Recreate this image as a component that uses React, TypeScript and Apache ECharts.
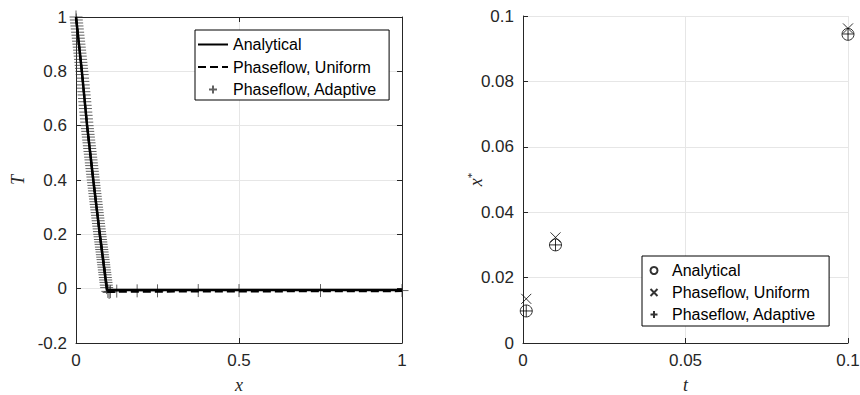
import React, { useEffect, useRef } from "react";
import * as echarts from "echarts";

// ---------- Left panel data: temperature profile T(x) ----------
const analyticalProfile: [number, number][] = [
  [0, 1], [0.018, 0.8], [0.034, 0.6], [0.053, 0.4], [0.073, 0.2], [0.095, -0.005], [1, -0.005],
];
const uniformProfile: [number, number][] = [
  [0, 1], [0.018, 0.8], [0.034, 0.6], [0.053, 0.4], [0.073, 0.2], [0.097, -0.012], [0.25, -0.011], [1, -0.009],
];
const adaptiveProfile: [number, number][] = [
  [0, 1.0], [0.001, 0.989], [0.002, 0.978], [0.003, 0.967], [0.004, 0.956], [0.005, 0.944],
  [0.006, 0.933], [0.007, 0.922], [0.008, 0.911], [0.009, 0.9], [0.01, 0.889], [0.011, 0.878],
  [0.012, 0.867], [0.013, 0.856], [0.014, 0.844], [0.015, 0.833], [0.016, 0.822], [0.017, 0.811],
  [0.018, 0.8], [0.019, 0.788], [0.02, 0.775], [0.021, 0.763], [0.022, 0.75], [0.023, 0.738],
  [0.024, 0.725], [0.025, 0.713], [0.026, 0.7], [0.027, 0.688], [0.028, 0.675], [0.029, 0.663],
  [0.03, 0.65], [0.031, 0.638], [0.032, 0.625], [0.033, 0.613], [0.034, 0.6], [0.035, 0.589],
  [0.036, 0.579], [0.037, 0.568], [0.038, 0.558], [0.039, 0.547], [0.04, 0.537], [0.041, 0.526],
  [0.042, 0.516], [0.043, 0.505], [0.044, 0.495], [0.045, 0.484], [0.046, 0.474], [0.047, 0.463],
  [0.048, 0.453], [0.049, 0.442], [0.05, 0.432], [0.051, 0.421], [0.052, 0.411], [0.053, 0.4],
  [0.054, 0.39], [0.055, 0.38], [0.056, 0.37], [0.057, 0.36], [0.058, 0.35], [0.059, 0.34],
  [0.06, 0.33], [0.061, 0.32], [0.062, 0.31], [0.063, 0.3], [0.064, 0.29], [0.065, 0.28],
  [0.066, 0.27], [0.067, 0.26], [0.068, 0.25], [0.069, 0.24], [0.07, 0.23], [0.071, 0.22],
  [0.072, 0.21], [0.073, 0.2], [0.074, 0.191], [0.075, 0.181], [0.076, 0.172], [0.077, 0.163],
  [0.078, 0.153], [0.079, 0.144], [0.08, 0.135], [0.081, 0.125], [0.082, 0.116], [0.083, 0.107],
  [0.084, 0.097], [0.085, 0.088], [0.086, 0.079], [0.087, 0.069], [0.088, 0.06], [0.089, 0.051],
  [0.09, 0.041], [0.091, 0.032], [0.092, 0.023], [0.093, 0.013], [0.094, 0.004],
  [0.0977, -0.01], [0.1016, -0.014], [0.1055, -0.011], [0.125, -0.009], [0.1875, -0.008],
  [0.25, -0.008], [0.375, -0.007], [0.5, -0.007], [0.75, -0.007], [1.0, -0.007],
];

// ---------- Right panel data: melting front position x*(t) ----------
const times = [0.001, 0.01, 0.1];
const analyticalFront = [0.0098, 0.030, 0.0944];
const uniformFront = [0.0135, 0.0323, 0.0962];
const adaptiveFront = [0.0098, 0.030, 0.0945];

const seriesNames = ["Analytical", "Phaseflow, Uniform", "Phaseflow, Adaptive"];

const AXIS_COLOR = "#262626";
const GRID_COLOR = "#e6e6e6";
const SANS = "Liberation Sans, Arial, sans-serif";
const SERIF = "Liberation Serif, Times New Roman, serif";
const PLUS = "path://M5 0V10M0 5H10";
const CROSS = "path://M0 0L10 10M10 0L0 10";
const HIDDEN = { color: "rgba(0,0,0,0)", borderColor: "rgba(0,0,0,0)", borderWidth: 0, opacity: 0 };

const axisNameStyle = {
  fontFamily: SERIF,
  fontStyle: "italic",
  fontSize: 18,
  color: AXIS_COLOR,
};

function baseAxis(min: number, max: number, interval: number) {
  return {
    type: "value",
    min,
    max,
    interval,
    nameMoveOverlap: false,
    axisLine: { show: true, onZero: false, lineStyle: { color: AXIS_COLOR, width: 1 } },
    axisTick: { show: true, inside: true, length: 5, lineStyle: { color: AXIS_COLOR } },
    axisLabel: { fontFamily: SANS, fontSize: 17, color: AXIS_COLOR, margin: 9 },
    splitLine: { show: true, lineStyle: { color: GRID_COLOR, width: 1 } },
  };
}

function boxAxis(min: number, max: number, interval: number, position: string) {
  return {
    ...baseAxis(min, max, interval),
    position,
    axisLabel: { show: false },
    splitLine: { show: false },
  };
}

const legendText = { fontFamily: SANS, fontSize: 16, color: "#000", lineHeight: 17 };

function leftOption(): any {
  return {
    animation: false,
    grid: { left: 76, right: 28, top: 17, bottom: 52, containLabel: false, outerBoundsMode: "none" },
    xAxis: [
      {
        ...baseAxis(0, 1, 0.5),
        position: "bottom",
        name: "x",
        nameLocation: "middle",
        nameGap: 33,
        nameTextStyle: axisNameStyle,
      },
      boxAxis(0, 1, 0.5, "top"),
    ],
    yAxis: [
      {
        ...baseAxis(-0.2, 1, 0.2),
        position: "left",
        name: "T",
        nameLocation: "middle",
        nameGap: 49,
        nameRotate: 90,
        nameTextStyle: axisNameStyle,
      },
      boxAxis(-0.2, 1, 0.2, "right"),
    ],
    legend: {
      left: 195,
      top: 30,
      orient: "vertical",
      data: [
        { name: seriesNames[0], itemStyle: HIDDEN },
        { name: seriesNames[1], itemStyle: HIDDEN },
        { name: seriesNames[2] },
      ],
      itemWidth: 30,
      itemHeight: 8,
      itemGap: 5.5,
      padding: [6, 12, 2, 2],
      borderColor: "#000",
      borderWidth: 1,
      backgroundColor: "#fff",
      textStyle: legendText,
      selectedMode: false,
    },
    series: [
      {
        name: seriesNames[2],
        type: "scatter",
        data: adaptiveProfile,
        symbol: PLUS,
        symbolSize: 13,
        clip: false,
        silent: true,
        itemStyle: { color: "none", borderColor: "#3a3a3a", borderWidth: 1 },
        z: 2,
      },
      {
        name: seriesNames[1],
        type: "line",
        data: uniformProfile,
        showSymbol: false,
        symbol: "none",
        silent: true,
        lineStyle: { color: "#000", width: 2, type: [8, 4] },
        itemStyle: HIDDEN,
        z: 3,
      },
      {
        name: seriesNames[0],
        type: "line",
        data: analyticalProfile,
        showSymbol: false,
        symbol: "none",
        silent: true,
        lineStyle: { color: "#000", width: 2.5 },
        itemStyle: HIDDEN,
        z: 4,
      },
    ],
  };
}

function rightOption(): any {
  const pairs = (ys: number[]) => times.map((t, i) => [t, ys[i]]);
  return {
    animation: false,
    grid: { left: 93, right: 12, top: 16, bottom: 52, containLabel: false, outerBoundsMode: "none" },
    xAxis: {
      ...baseAxis(0, 0.1, 0.05),
      name: "t",
      nameLocation: "middle",
      nameGap: 33,
      nameTextStyle: axisNameStyle,
    },
    yAxis: {
      ...baseAxis(0, 0.1, 0.02),
      name: "{i|x}{s|*}",
      nameLocation: "middle",
      nameGap: 36,
      nameRotate: 90,
      nameTextStyle: {
        rich: {
          i: { fontFamily: SERIF, fontStyle: "italic", fontSize: 18, color: AXIS_COLOR, lineHeight: 22 },
          s: { fontFamily: SERIF, fontSize: 11, color: AXIS_COLOR, lineHeight: 11, verticalAlign: "top" },
        },
      },
    },
    legend: {
      left: 212,
      top: 256,
      orient: "vertical",
      data: seriesNames,
      itemWidth: 26,
      itemHeight: 7,
      itemGap: 5,
      padding: [6, 13, 3, 6],
      borderColor: "#000",
      borderWidth: 1,
      backgroundColor: "#fff",
      textStyle: legendText,
      selectedMode: false,
    },
    series: [
      {
        name: seriesNames[0],
        type: "scatter",
        data: pairs(analyticalFront),
        symbol: "circle",
        symbolSize: 12,
        clip: false,
        silent: true,
        itemStyle: { color: "none", borderColor: "#000", borderWidth: 1 },
      },
      {
        name: seriesNames[1],
        type: "scatter",
        data: pairs(uniformFront),
        symbol: CROSS,
        symbolSize: 10,
        clip: false,
        silent: true,
        itemStyle: { color: "none", borderColor: "#000", borderWidth: 1 },
      },
      {
        name: seriesNames[2],
        type: "scatter",
        data: pairs(adaptiveFront),
        symbol: PLUS,
        symbolSize: 12,
        clip: false,
        silent: true,
        itemStyle: { color: "none", borderColor: "#000", borderWidth: 1 },
      },
    ],
  };
}

function Panel({ option, left }: { option: any; left: number }) {
  const ref = useRef<HTMLDivElement>(null);
  useEffect(() => {
    if (!ref.current) return;
    const chart = echarts.init(ref.current, undefined, { renderer: "svg" });
    chart.setOption(option);
    return () => chart.dispose();
  }, []);
  return (
    <div
      ref={ref}
      style={{ position: "absolute", left, top: 0, width: 430, height: 395 }}
    />
  );
}

export default function App() {
  return (
    <div
      style={{
        position: "fixed",
        left: 0,
        top: 0,
        width: 860,
        height: 395,
        background: "#fff",
        overflow: "hidden",
      }}
    >
      <Panel option={leftOption()} left={0} />
      <Panel option={rightOption()} left={430} />
    </div>
  );
}
